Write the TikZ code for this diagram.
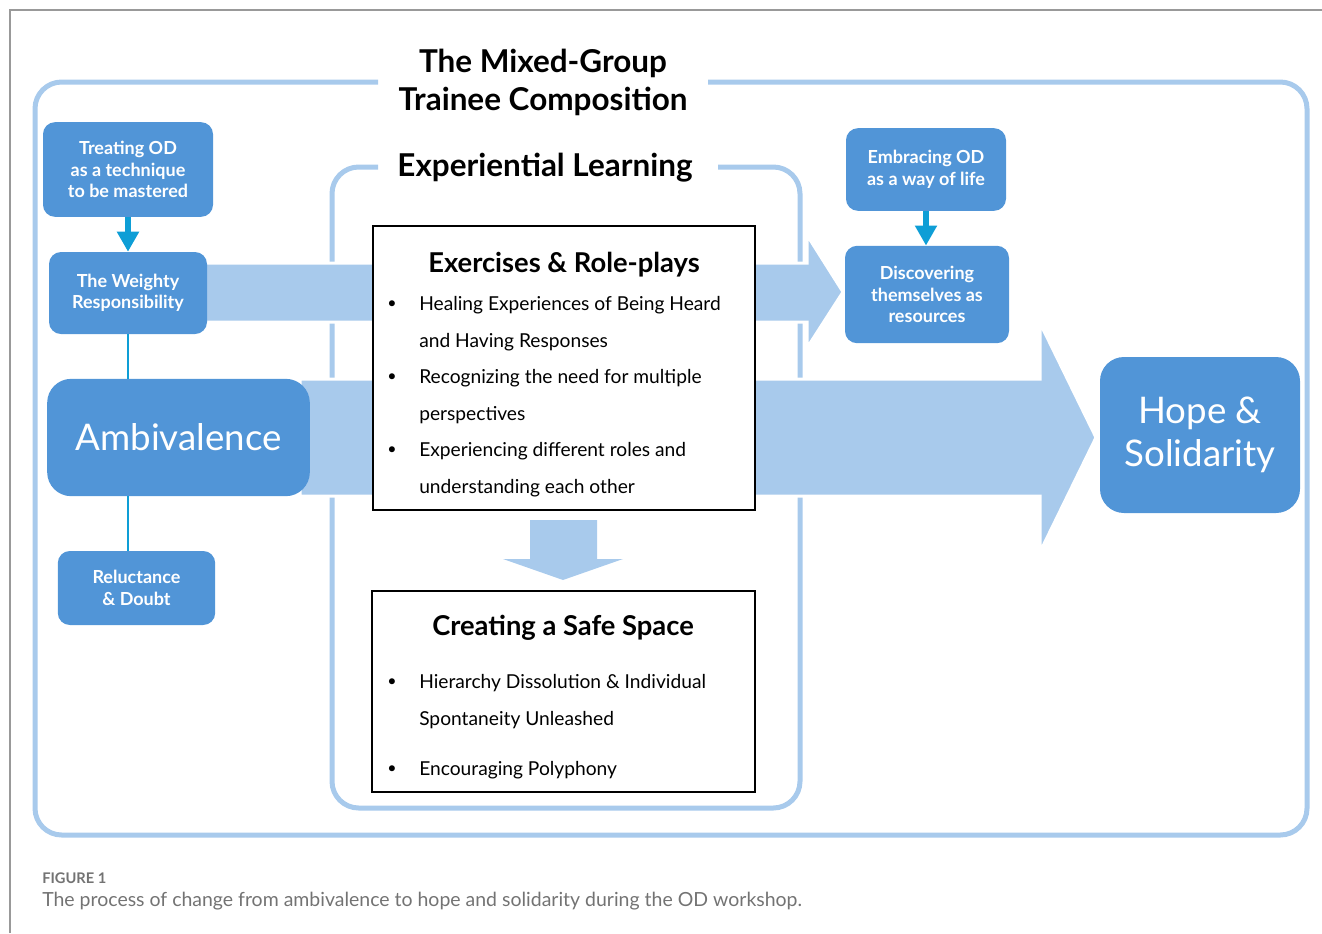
\documentclass[tikz,border=0pt]{standalone}
\usepackage{fontspec}
\setmainfont{Lato}
\usetikzlibrary{positioning}
\usetikzlibrary{calc}
\usetikzlibrary{arrows.meta}
\definecolor{boxblue}{RGB}{81,149,215}
\definecolor{bandblue}{RGB}{168,202,236}
\definecolor{linkcyan}{RGB}{14,158,214}
\definecolor{capgray}{RGB}{115,115,115}
\tikzstyle{bluebox}=[fill=boxblue,text=white,rounded corners=9pt,inner sep=0pt,align=center,font=\fontsize{13.5}{16.2}\selectfont\bfseries]
\tikzstyle{bigbox}=[bluebox,rounded corners=18pt,font=\fontsize{27.5}{32}\selectfont]
\tikzstyle{framing}=[draw=bandblue,line width=3.75pt,rounded corners=20pt]
\tikzstyle{band}=[fill=bandblue,draw=white,line width=2.25pt]
\tikzstyle{textbox}=[draw=black,line width=1.5pt,fill=white,inner sep=0pt]
\tikzstyle{boxhead}=[inner sep=0pt,font=\fontsize{20.5}{24}\selectfont\bfseries]
\tikzstyle{bulitem}=[anchor=west,align=left,inner sep=0pt,font=\fontsize{14.4}{27.4}\selectfont]
\tikzstyle{bulmark}=[inner sep=0pt,font=\fontsize{12}{12}\selectfont]
\tikzstyle{heading}=[align=center,inner sep=0pt,font=\fontsize{23.6}{28.5}\selectfont\bfseries]
\tikzstyle{taro}=[-{Triangle[width=15.75pt,length=15pt]},line width=4.5pt,color=linkcyan]
\tikzstyle{tie}=[line width=2pt,color=linkcyan]

\begin{document}
\begin{tikzpicture}[x=0.75pt,y=-0.75pt]
	\useasboundingbox (0,0) rectangle (1322,933);
	\draw[color=black!40,line width=1.5pt] (10,933) -- (10,10) -- (1322,10);

	% Frames
	\draw[framing] (708,82) -- (1307,82) -- (1307,835) -- (35,835) -- (35,82) -- (378,82);
	\draw[framing] (718,167) -- (800,167) -- (800,808) -- (332,808) -- (332,167) -- (378,167);
	\node[heading] (mixed) at (543,82) {The Mixed-Group\\Trainee Composition};
	\node[heading] (exper) at (545,168) {Experiential Learning};

	% Block arrows
	\coordinate (toptip) at (843,292);
	\coordinate (bigtip) at (1096,437.5);
	\filldraw[band] (200,263) -- (807,263) -- (807,235) -- (toptip) -- (807,348) -- (807,322) -- (200,322) -- cycle;
	\filldraw[band] (300,379) -- (1040,379) -- (1040,323) -- (bigtip) -- (1040,552) -- (1040,496) -- (300,496) -- cycle;
	\fill[bandblue] (530,520) -- (597,520) -- (597,559) -- (623,559) -- (563,580) -- (503,559) -- (530,559) -- cycle;

	% Left column
	\node[bluebox, minimum width=127.5pt, minimum height=71pt] (treat) at (128,169.5) {Treating OD\\as a technique\\to be mastered};
	\node[bluebox, minimum width=118.5pt, minimum height=61.5pt] (weighty) at (128,293) {The Weighty\\Responsibility};
	\node[bigbox, minimum width=197pt, minimum height=88pt] (ambi) at (178.5,437.5) {Ambivalence};
	\node[bluebox, minimum width=118pt, minimum height=55.5pt] (reluct) at (136.5,588) {Reluctance\\\& Doubt};
	\draw[taro] (treat.south) -- (weighty.north);
	\draw[tie] (weighty.south) -- (weighty.south |- ambi.north);
	\draw[tie] (ambi.south -| weighty.south) -- (reluct.north -| weighty.south);

	% Right column
	\node[bluebox, minimum width=120pt, minimum height=62pt] (embrace) at (926,169.5) {Embracing OD\\as a way of life};
	\node[bluebox, minimum width=123pt, minimum height=73pt] (discover) at (927,294.5) {Discovering\\themselves as\\resources};
	\node[bigbox, minimum width=150pt, minimum height=117pt] (hope) at (1200,435) {Hope \&\\Solidarity};
	\draw[taro] (embrace.south) -- (embrace.south |- discover.north);

	% Exercises
	\node[textbox, minimum width=286.5pt, minimum height=213pt] (exbox) at (564,368) {};
	\node[boxhead] (exhead) at (564,264.5) {Exercises \& Role-plays};
	\node[bulitem] (ex1) at (419,323.5) {Healing Experiences of Being Heard\\and Having Responses};
	\node[bulitem] (ex2) at (419,396.5) {Recognizing the need for multiple\\perspectives};
	\node[bulitem] (ex3) at (419,469.5) {Experiencing different roles and\\understanding each other};
	\foreach \y in {305,378,451}
		\node[bulmark] (exdot\y) at (392,\y) {\textbullet};

	% Safe space
	\node[textbox, minimum width=287pt, minimum height=150.75pt] (safebox) at (563.5,691.5) {};
	\node[boxhead] (safehead) at (563,627.5) {Creating a Safe Space};
	\node[bulitem] (safe1) at (419,701.5) {Hierarchy Dissolution \& Individual\\Spontaneity Unleashed};
	\node[bulitem] (safe2) at (419,770) {Encouraging Polyphony};
	\foreach \y in {683,770}
		\node[bulmark] (safedot\y) at (392,\y) {\textbullet};

	% Caption
	\node[anchor=west, inner sep=0pt, text=capgray, font=\fontsize{11}{12}\selectfont\bfseries] (figlabel) at (42,878) {FIGURE 1};
	\node[anchor=west, inner sep=0pt, text=capgray, font=\fontsize{14.6}{17}\selectfont] (figtext) at (42,901) {The process of change from ambivalence to hope and solidarity during the OD workshop.};
\end{tikzpicture}
\end{document}
